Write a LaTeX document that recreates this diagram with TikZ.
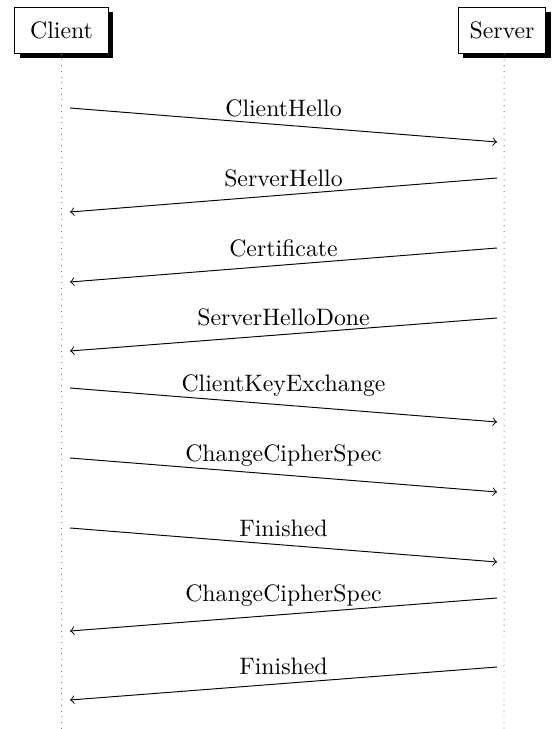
\documentclass[tikz,border=0pt]{standalone}
\usetikzlibrary{shadows}
\begin{document}
\begin{tikzpicture}[x=0.4202pt,y=-0.4202pt,
  inst/.style={draw, fill=white, inner sep=0pt, minimum height=19.3pt,
    drop shadow={shadow xshift=2.1pt, shadow yshift=-2.1pt, opacity=1, fill=black}},
  lifeline/.style={dotted, gray},
  msg/.style={->},
  lbl/.style={midway, above}]
\useasboundingbox (0,0) rectangle (553,729);
\node[inst, minimum width=39.1pt] (client) at (61.5,30.3) {Client};
\node[inst, minimum width=36.6pt] (server) at (502,30.3) {Server};
\coordinate (cend) at (61.5,729);
\coordinate (send) at (504,729);
\draw[lifeline] (client.south) -- (cend);
\draw[lifeline] ([xshift=0.9pt]server.south) -- (send);
% messages
\coordinate (a1) at (70,108); \coordinate (b1) at (497,142);
\draw[msg] (a1) -- node[lbl]{ClientHello} (b1);
\coordinate (a2) at (497,178); \coordinate (b2) at (70,212);
\draw[msg] (a2) -- node[lbl]{ServerHello} (b2);
\coordinate (a3) at (497,248); \coordinate (b3) at (70,282);
\draw[msg] (a3) -- node[lbl]{Certificate} (b3);
\coordinate (a4) at (497,318); \coordinate (b4) at (70,351);
\draw[msg] (a4) -- node[lbl]{ServerHelloDone} (b4);
\coordinate (a5) at (70,388); \coordinate (b5) at (497,422);
\draw[msg] (a5) -- node[lbl]{ClientKeyExchange} (b5);
\coordinate (a6) at (70,458); \coordinate (b6) at (497,492);
\draw[msg] (a6) -- node[lbl]{ChangeCipherSpec} (b6);
\coordinate (a7) at (70,528); \coordinate (b7) at (497,562);
\draw[msg] (a7) -- node[lbl]{Finished} (b7);
\coordinate (a8) at (497,598); \coordinate (b8) at (70,631);
\draw[msg] (a8) -- node[lbl]{ChangeCipherSpec} (b8);
\coordinate (a9) at (497,667) ; \coordinate (b9) at (70,700);
\draw[msg] (a9) -- node[lbl]{Finished} (b9);
\end{tikzpicture}
\end{document}
